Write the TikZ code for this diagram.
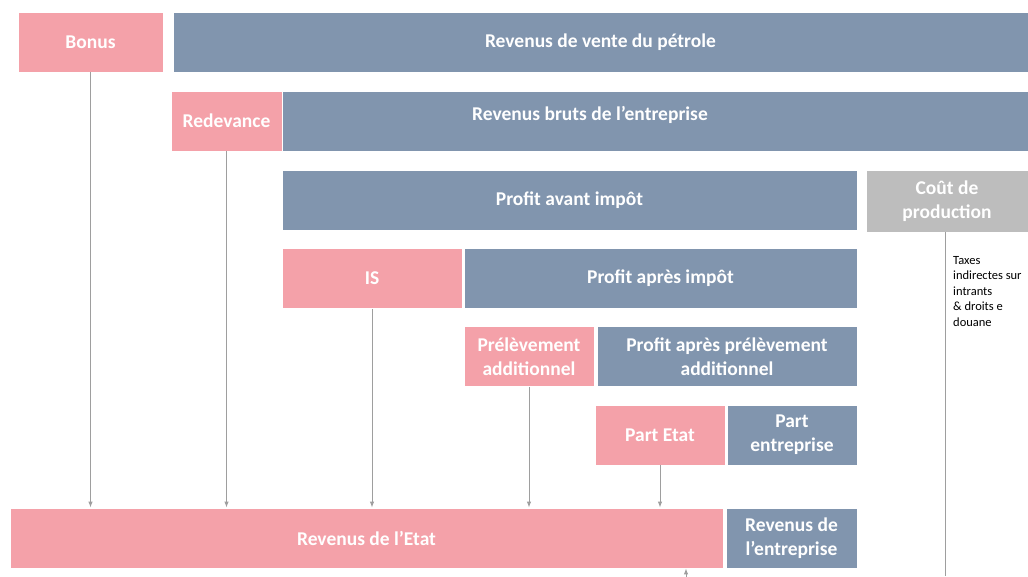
\documentclass[tikz,border=0pt]{standalone}
\usepackage{fontspec}
\setmainfont{Carlito}
\usetikzlibrary{arrows.meta}

\definecolor{rose}{HTML}{F4A1A9}
\definecolor{ardoise}{HTML}{8195AE}
\definecolor{gris}{HTML}{BDBDBD}
\definecolor{fleche}{HTML}{9E9E9E}

\tikzstyle{bloc}=[draw=white,line width=0.8pt,text=white,align=center,inner sep=0pt,minimum height=60pt,font=\fontsize{19.5}{24}\selectfont\bfseries]
\tikzstyle{etat}=[bloc,fill=rose]
\tikzstyle{firme}=[bloc,fill=ardoise]
\tikzstyle{flux}=[draw=fleche,line width=1pt,-{Latex[length=6pt,width=4.5pt]}]
\tikzstyle{note}=[font=\fontsize{12.5}{15.5}\selectfont,align=left,anchor=north west,inner sep=0pt]

\begin{document}
\begin{tikzpicture}[x=1pt,y=-1pt]
    \useasboundingbox (0,0) rectangle (1028,576);
    % Flows to the state
    \foreach \pos/\w/\name/\txt in {{(90.5,42)/145/bonus/Bonus}, {(226.5,121)/111/redevance/Redevance},
        {(372,278.5)/180/is/IS}, {(529,356.5)/130/prelev/Prélèvement\\additionnel},
        {(660,435)/130/partetat/Part Etat}, {(366.5,538)/713/revetat/Revenus de l’Etat}}
        \node[etat,minimum width=\w] (\name) at \pos {\txt};
    % What stays with the company
    \foreach \pos/\w/\name/\txt in {{(600.5,42)/855/vente/Revenus de vente du pétrole}, {(655,121)/746/bruts/},
        {(569.5,200)/575/avantimpot/Profit avant impôt}, {(660.5,278.5)/393/apresimpot/Profit après impôt},
        {(727,356.5)/260/apresprelev/Profit après prélèvement\\additionnel},
        {(792,435)/130/partent/Part\\entreprise}, {(791.5,538)/131/revent/Revenus de\\l’entreprise}}
        \node[firme,minimum width=\w] (\name) at \pos {\txt};
    \node[bloc,draw=none,minimum height=0pt] (brutslbl) at (590,115) {Revenus bruts de l’entreprise};
    \node[bloc,fill=gris,minimum width=162,minimum height=62] (cout) at (947,201) {Coût de\\production};
    \node[note] (taxes) at (953,256) {Taxes\\indirectes sur\\intrants\\\& droits e\\douane};

    % Arrows down to the state revenues
    \foreach \source in {bonus,redevance,is,prelev,partetat}
        \path[flux] (\source.south) -- (\source.south |- revetat.north);
    \coordinate (coutbas) at (945,576);
    \draw[draw=fleche,line width=1pt] (cout.south -| coutbas) -- (coutbas);
    \coordinate (etatbas) at (686,578);
    \path[flux] (etatbas) -- (etatbas |- revetat.south);
\end{tikzpicture}
\end{document}
